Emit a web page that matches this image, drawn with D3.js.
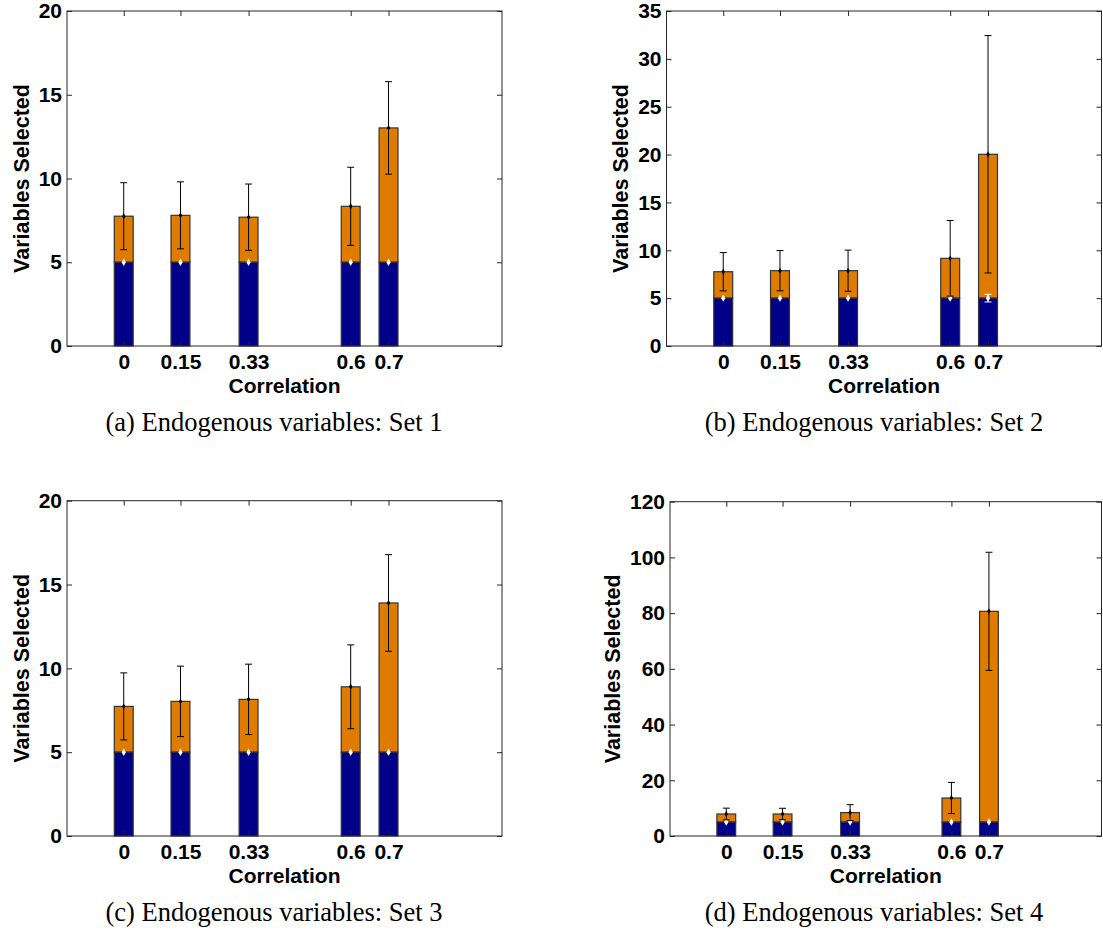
<!DOCTYPE html>
<html>
<head>
<meta charset="utf-8">
<script src="https://cdn.jsdelivr.net/npm/d3@7"></script>
<style>
  body { margin: 0; background: #fff; }
  svg { display: block; }
</style>
</head>
<body>
<svg id="chart" width="1103" height="933"></svg>
<script>
// Correlation levels (x positions) and their labels
const correlations = [0, 0.15, 0.33, 0.6, 0.7];
const corrLabels = ["0", "0.15", "0.33", "0.6", "0.7"];

// true (endogenous) variables selected - blue part, same for every set
const trueSelected = [5, 5, 5, 5, 5];
const trueErrSet1 = [0, 0, 0, 0, 0];
const trueErrSet2 = [0, 0, 0, 0, 0.4];
const trueErrSet3 = [0, 0, 0, 0, 0];
const trueErrSet4 = [0, 0, 0, 0, 0];

// total variables selected (top of orange part) and std
const totalSet1 = [7.75, 7.8, 7.69, 8.34, 13.02];
const errSet1 = [2.0, 2.0, 1.98, 2.33, 2.76];
const totalSet2 = [7.76, 7.87, 7.87, 9.16, 20.03];
const errSet2 = [2.0, 2.1, 2.15, 3.95, 12.4];
const totalSet3 = [7.73, 8.03, 8.15, 8.9, 13.9];
const errSet3 = [2.0, 2.1, 2.1, 2.5, 2.88];
const totalSet4 = [7.9, 7.9, 8.4, 13.64, 80.65];
const errSet4 = [2.1, 2.05, 2.85, 5.6, 21.2];

// y tick labels
const yTicksSet1 = [0, 5, 10, 15, 20];
const yTicksSet2 = [0, 5, 10, 15, 20, 25, 30, 35];
const yTicksSet3 = [0, 5, 10, 15, 20];
const yTicksSet4 = [0, 20, 40, 60, 80, 100, 120];

const captions = [
  "(a) Endogenous variables: Set 1",
  "(b) Endogenous variables: Set 2",
  "(c) Endogenous variables: Set 3",
  "(d) Endogenous variables: Set 4"
];

const blue = "#000088";
const orange = "#df7c00";
const sans = "'Liberation Sans', Arial, sans-serif";
const serif = "'Liberation Serif', 'Times New Roman', serif";

const svg = d3.select("#chart");

function drawPanel(p) {
    const width = p.right - p.left,
        height = p.bottom - p.top;

    const g = svg.append("g")
        .attr("transform", `translate(${p.left},${p.top})`);

    const x = d3.scaleLinear()
        .domain([-0.15, 1])
        .range([0, width]);

    const y = d3.scaleLinear()
        .domain([0, d3.max(p.yTicks)])
        .range([height, 0]);

    const bw = x(0.05) - x(0);

    const rows = correlations.map((c, i) => ({
        c: c,
        base: trueSelected[i],
        baseErr: p.trueErr[i],
        total: p.total[i],
        err: p.err[i]
    }));

    // orange part (extra variables)
    g.selectAll(".extra")
        .data(rows)
        .enter()
        .append("rect")
        .attr("x", d => x(d.c) - bw / 2)
        .attr("y", d => y(d.total))
        .attr("width", bw)
        .attr("height", d => y(d.base) - y(d.total))
        .style("fill", orange)
        .style("stroke", "#333")
        .style("stroke-width", 1.2);

    // blue part (endogenous)
    g.selectAll(".base")
        .data(rows)
        .enter()
        .append("rect")
        .attr("x", d => x(d.c) - bw / 2)
        .attr("y", d => y(d.base))
        .attr("width", bw)
        .attr("height", d => y(0) - y(d.base))
        .style("fill", blue)
        .style("stroke", "#333")
        .style("stroke-width", 1.2);

    // error bars
    function errorBars(cls, val, err, color, dot) {
        const e = g.selectAll("." + cls)
            .data(rows)
            .enter()
            .append("g")
            .attr("class", cls);
        e.append("line")
            .attr("x1", d => x(d.c))
            .attr("x2", d => x(d.c))
            .attr("y1", d => y(val(d) - err(d)))
            .attr("y2", d => y(val(d) + err(d)))
            .style("stroke", color);
        e.append("line")
            .attr("x1", d => x(d.c) - 3.5)
            .attr("x2", d => x(d.c) + 3.5)
            .attr("y1", d => y(val(d) + err(d)))
            .attr("y2", d => y(val(d) + err(d)))
            .style("stroke", color)
            .style("display", d => err(d) > 0 ? null : "none");
        e.append("line")
            .attr("x1", d => x(d.c) - 3.5)
            .attr("x2", d => x(d.c) + 3.5)
            .attr("y1", d => y(val(d) - err(d)))
            .attr("y2", d => y(val(d) - err(d)))
            .style("stroke", color)
            .style("display", d => err(d) > 0 ? null : "none");
        e.append("path")
            .attr("transform", d => `translate(${x(d.c)},${y(val(d))})`)
            .attr("d", d3.symbol(d3.symbolDiamond, dot))
            .style("fill", color);
    }
    errorBars("err-base", d => d.base, d => d.baseErr, "#fff", 16);
    errorBars("err-total", d => d.total, d => d.err, "#000", 10);

    // axes, matlab style: ticks inside on all four sides
    const xAxis = d3.axisBottom(x)
        .tickValues(correlations)
        .tickFormat((d, i) => corrLabels[i])
        .tickSizeInner(-5)
        .tickSizeOuter(0)
        .tickPadding(8);
    const xAxisTop = d3.axisTop(x)
        .tickValues(correlations)
        .tickFormat("")
        .tickSizeInner(-5)
        .tickSizeOuter(0);
    const yAxis = d3.axisLeft(y)
        .tickValues(p.yTicks)
        .tickSizeInner(-5)
        .tickSizeOuter(0)
        .tickPadding(5);
    const yAxisRight = d3.axisRight(y)
        .tickValues(p.yTicks)
        .tickFormat("")
        .tickSizeInner(-5)
        .tickSizeOuter(0);

    g.append("g")
        .attr("transform", `translate(0,${height})`)
        .call(xAxis);
    g.append("g").call(xAxisTop);
    const gy = g.append("g").call(yAxis);
    g.append("g")
        .attr("transform", `translate(${width},0)`)
        .call(yAxisRight);

    g.selectAll(".domain").remove();
    g.selectAll(".tick line").style("stroke", "#262626");
    g.selectAll(".tick text")
        .style("font-family", sans)
        .style("font-weight", "bold")
        .style("font-size", "21px")
        .style("fill", "#000");

    g.append("rect")
        .attr("width", width)
        .attr("height", height)
        .style("fill", "none")
        .style("stroke", "#262626")
        .style("stroke-width", 1);

    // axis titles
    g.append("text")
        .attr("x", width / 2)
        .attr("y", height + 47)
        .attr("text-anchor", "middle")
        .style("font-family", sans)
        .style("font-weight", "bold")
        .style("font-size", "21px")
        .text("Correlation");

    const yb = gy.node().getBBox();
    g.append("text")
        .attr("transform", `translate(${yb.x - 10},${height / 2}) rotate(-90)`)
        .attr("text-anchor", "middle")
        .style("font-family", sans)
        .style("font-weight", "bold")
        .style("font-size", "21.5px")
        .text("Variables Selected");

    // sub caption
    svg.append("text")
        .attr("x", p.capX)
        .attr("y", p.capY)
        .attr("text-anchor", "middle")
        .style("font-family", serif)
        .style("font-size", "26.5px")
        .style("fill", "#000")
        .text(p.caption);
}

drawPanel({ left: 67, top: 11, right: 502, bottom: 346, yTicks: yTicksSet1,
    total: totalSet1, err: errSet1, trueErr: trueErrSet1,
    caption: captions[0], capX: 274, capY: 431 });
drawPanel({ left: 666.5, top: 11, right: 1101.5, bottom: 346, yTicks: yTicksSet2,
    total: totalSet2, err: errSet2, trueErr: trueErrSet2,
    caption: captions[1], capX: 874, capY: 431 });
drawPanel({ left: 67, top: 500.7, right: 502, bottom: 836, yTicks: yTicksSet3,
    total: totalSet3, err: errSet3, trueErr: trueErrSet3,
    caption: captions[2], capX: 274, capY: 921 });
drawPanel({ left: 670, top: 501.7, right: 1101.5, bottom: 836, yTicks: yTicksSet4,
    total: totalSet4, err: errSet4, trueErr: trueErrSet4,
    caption: captions[3], capX: 874, capY: 921 });
</script>
</body>
</html>
